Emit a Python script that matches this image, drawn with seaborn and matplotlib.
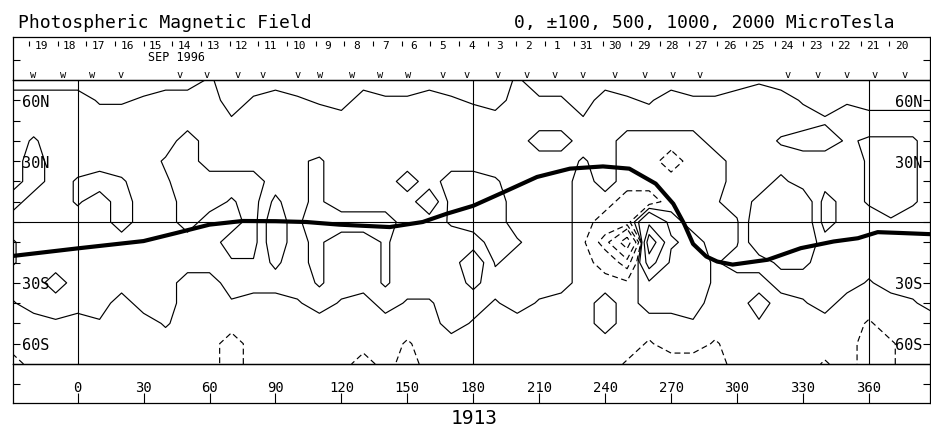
import matplotlib
matplotlib.use("Agg")
import matplotlib.pyplot as plt
import numpy as np
import pandas as pd
import seaborn as sns

# ---------------------------------------------------------------------------
# Carrington rotation 1913 synoptic chart (September 1996)
# ---------------------------------------------------------------------------
rotation_label = "1913"
title_left = "Photospheric Magnetic Field"
title_right = "0, \u00b1100, 500, 1000, 2000 MicroTesla"
month_label = "SEP 1996"

contour_levels = [-2000, -1000, -500, -100, 0, 100, 500, 1000, 2000]

# Coarse magnetogram on a 10-degree grid (Carrington longitude x latitude).
grid_lon = list(range(-30, 391, 10))      # 43 columns
grid_lat = list(range(70, -71, -10))      # 15 rows, north first

# field strength classes in microtesla
field_code = {
    "-": -40, "+": 40, ".": 10, ",": -10,
    ":": -115, "=": -170, "#": -700, "@": -2600,
    "o": 130, "p": 200, "q": 350, "P": 700, "Q": 1400,
}

field_rows = [
    "---------.-------------.----------,--------",   # 70N
    "++++,,.+++-.+.,-+..+.,-+..-+.,+..+++,-,----",   # 60N
    "++++++++++.+++++++++++++++.++++++++++.+++++",   # 50N
    "+,++++++-+++++++++++++++--++----+++,--.,,,+",   # 40N
    "+-+++++,-++++.,+++++++++++,+--=--++++++,-,+",   # 30N
    "+-+,-,+.----+.,+++-+--,+++-+-----++o+++,-,+",   # 20N
    "-++,+-++--.-o.,++++p---+++--==--,+opp-+,-,+",   # 10N
    "+++++-++-++-p.----++,--+++-==q+--,ppp-++.++",   # EQ
    ",+++++++++--p.,++,++++-,++-#@Qo+-,ppp++++++",   # 10S
    ",+++++++++..o.,++,+++p,+++-=#P++,++oo++++++",   # 20S
    "++-+++++--++++,++,+++o++++---+++,--++++,+++",   # 30S
    ",++++-++--,--,+,-+,,++,+,--+-+++--+-,+---,+",   # 40S
    "--,-,--.------------+,-----+---,--,----:---",   # 50S
    "----------=-------:----------:--:------=:--",   # 60S
    "=---------=-----=-=---------:====----:-=:--",   # 70S
]

# Computed source-surface neutral line
hcs_lon = [-30, 0, 30, 45, 60, 75, 90, 104, 119, 142, 157, 168, 180, 194, 209,
           224, 239, 251, 263, 271, 276, 280, 286, 291, 298, 314, 329, 344,
           355, 364, 374, 388]
hcs_lat = [-16.8, -13.0, -9.4, -5.4, -1.3, 0.5, 0.4, 0.0, -1.3, -2.5, 0.0, 4.1,
           8.0, 14.8, 22.2, 26.3, 27.4, 26.3, 18.9, 9.0, -1.0, -10.8, -17.0,
           -19.5, -21.0, -18.6, -12.9, -9.6, -8.0, -5.0, -5.4, -6.0]

# Day-of-month scale along the top (time runs right to left)
day_labels = [19, 18, 17, 16, 15, 14, 13, 12, 11, 10, 9, 8, 7, 6, 5, 4, 3, 2, 1,
              31, 30, 29, 28, 27, 26, 25, 24, 23, 22, 21, 20]
day_first_lon = -22.2
day_step = 13.05
month_label_lon = 45.2

# Observation markers
obs_w_lon = [-20.3, -6.7, 6.5, 110.3, 124.8, 137.5, 150.3]
obs_v_lon = [19.7, 46.5, 58.8, 72.9, 84.3, 100.2, 166.2, 177.1, 191.2, 204.4,
             217.1, 229.9, 244.5, 258.1, 270.8, 283.1, 323.2, 336.8, 350.0,
             362.7, 376.4]

lon_ticks = [0, 30, 60, 90, 120, 150, 180, 210, 240, 270, 300, 330, 360]
lat_ticks = [-60, -50, -40, -30, -20, -10, 0, 10, 20, 30, 40, 50, 60]
lat_label_vals = [60, 30, -30, -60]
lat_label_text = ["60N", "30N", "30S", "60S"]

# ---------------------------------------------------------------------------
sns.set_theme(style="white")
plt.rcParams["font.family"] = ["DejaVu Sans Mono", "DejaVu Sans"]

W, H = 931, 427
LON0, LON1 = -29.4, 387.8
PX_PER_DEG_X = 2.198
PX_PER_DEG_Y = 2.03


def px_rect(x0, y0, x1, y1):
    return [x0 / W, 1 - y1 / H, (x1 - x0) / W, (y1 - y0) / H]


fig = plt.figure(figsize=(W / 100, H / 100), dpi=100)
fig.patch.set_facecolor("white")


def framed(rect):
    a = fig.add_axes(rect)
    a.set_facecolor("none")
    for s in a.spines.values():
        s.set_visible(True)
        s.set_color("black")
        s.set_linewidth(0.9)
    a.set_xlim(LON0, LON1)
    a.grid(False)
    return a


ax_top = framed(px_rect(13, 38, 930, 81))
ax = framed(px_rect(13, 81, 930, 365))
ax_bot = framed(px_rect(13, 365, 930, 404))

# ---- map -------------------------------------------------------------------
lon_g, lat_g = np.meshgrid(grid_lon, grid_lat)
field = np.array([[field_code[c] for c in row] for row in field_rows], dtype=float)
styles = [(0, (5, 3)) if lv < 0 else "solid" for lv in contour_levels]
ax.contour(lon_g, lat_g, field, levels=contour_levels, colors="black",
           linewidths=0.85, linestyles=styles)

for lon in (0, 180, 360):
    ax.axvline(lon, color="black", lw=0.8)
ax.axhline(0, color="black", lw=0.8)

hcs = pd.DataFrame({"lon": hcs_lon, "lat": hcs_lat})
sns.lineplot(data=hcs, x="lon", y="lat", sort=False, estimator=None,
             color="black", linewidth=3.0, ax=ax)

ax.set_xlim(LON0, LON1)
ax.set_ylim(-70, 70)
ax.set_xlabel("")
ax.set_ylabel("")
ax.set_xticks([])
ax.set_yticks(lat_ticks)
ax.tick_params(axis="y", which="both", direction="in", length=5.2, width=0.8,
               colors="black", left=True, right=True,
               labelleft=False, labelright=False)

for lat, txt in zip(lat_label_vals, lat_label_text):
    base = lat - 5.5 / PX_PER_DEG_Y
    ax.text(LON0 + 9 / PX_PER_DEG_X, base, txt, ha="left", va="baseline",
            fontsize=11, color="black")
    ax.text(LON1 - 8 / PX_PER_DEG_X, base, txt, ha="right", va="baseline",
            fontsize=11, color="black")

# ---- top band: dates and observation markers -------------------------------
ax_top.set_ylim(81, 38)
ax_top.set_xticks([])
ax_top.set_yticks([61])
ax_top.tick_params(axis="y", direction="in", length=5.2, width=0.8,
                   colors="black", left=True, right=True,
                   labelleft=False, labelright=False)

day_ticks = [day_first_lon + day_step * i for i in range(len(day_labels))]
ax_top.vlines(day_ticks, 41.5, 47, color="black", lw=0.8)
for t, d in zip(day_ticks, day_labels):
    ax_top.text(t + 5.6, 49, str(d), ha="center", va="baseline",
                fontsize=8, color="black")
ax_top.text(month_label_lon, 61, month_label, ha="center", va="baseline",
            fontsize=8.5, color="black")
for lon in obs_w_lon:
    ax_top.text(lon, 78.5, "w", ha="center", va="baseline", fontsize=7.5,
                color="black")
for lon in obs_v_lon:
    ax_top.text(lon, 78.5, "v", ha="center", va="baseline", fontsize=7.5,
                color="black")

# ---- bottom band: longitude scale ------------------------------------------
ax_bot.set_ylim(404, 365)
ax_bot.set_xticks(lon_ticks)
ax_bot.tick_params(axis="x", direction="in", length=7.5, width=0.8,
                   colors="black", bottom=True, top=False, labelbottom=False)
ax_bot.set_yticks([385])
ax_bot.tick_params(axis="y", direction="in", length=5.2, width=0.8,
                   colors="black", left=True, right=True,
                   labelleft=False, labelright=False)
for lon in lon_ticks:
    ax_bot.text(lon, 392, str(lon), ha="center", va="baseline", fontsize=10,
                color="black")

# ---- titles ------------------------------------------------------------------
fig.text(18 / W, 1 - 28 / H, title_left, ha="left", va="baseline",
         fontsize=13, color="black")
fig.text(895 / W, 1 - 28 / H, title_right, ha="right", va="baseline",
         fontsize=13, color="black")
fig.text(474 / W, 1 - 424 / H, rotation_label, ha="center", va="baseline",
         fontsize=14, color="black")

fig.savefig("out.png", dpi=100, facecolor="white")
